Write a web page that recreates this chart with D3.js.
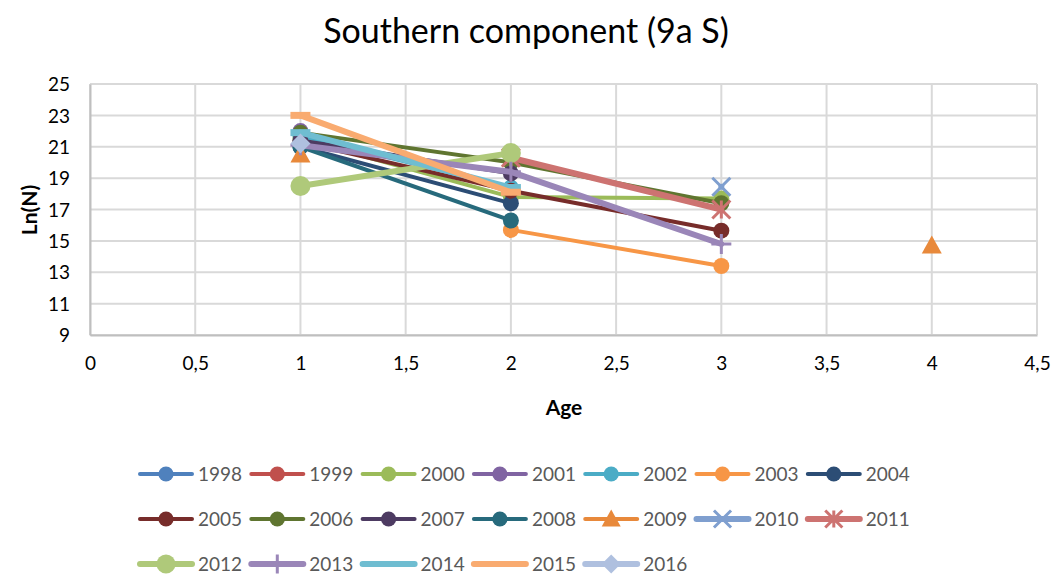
<!DOCTYPE html>
<html>
<head>
<meta charset="utf-8">
<script src="https://cdn.jsdelivr.net/npm/d3@7"></script>
<style>
  html, body { margin: 0; padding: 0; background: #fff; }
  svg { display: block; font-family: Lato, "Open Sans", sans-serif; }
</style>
</head>
<body>
<svg id="chart" width="1054" height="575"></svg>
<script>
// Ages on the x axis, one column per age class
const ages = [1, 2, 3, 4];

// Ln(N) per year class, indexed by age (null = no estimate)
const v1998 = [null, null, null, null];
const v1999 = [null, null, null, null];
const v2000 = [21.5, 17.8, 17.7, null];
const v2001 = [22.0, null, null, null];
const v2002 = [21.7, 18.4, null, null];
const v2003 = [null, 15.7, 13.4, null];
const v2004 = [21.0, 17.4, null, null];
const v2005 = [21.3, 18.2, 15.65, null];
const v2006 = [21.9, 20.0, 17.4, null];
const v2007 = [21.4, 19.3, null, null];
const v2008 = [21.0, 16.3, null, null];
const v2009 = [20.5, null, null, 14.7];
const v2010 = [null, null, 18.45, null];
const v2011 = [null, 20.3, 17.0, null];
const v2012 = [18.5, 20.6, null, null];
const v2013 = [21.1, 19.4, 14.8, null];
const v2014 = [21.9, 18.4, null, null];
const v2015 = [23.0, 18.1, null, null];
const v2016 = [21.2, null, null, null];

const years = ["1998","1999","2000","2001","2002","2003","2004","2005","2006","2007","2008","2009","2010","2011","2012","2013","2014","2015","2016"];
const values = [v1998,v1999,v2000,v2001,v2002,v2003,v2004,v2005,v2006,v2007,v2008,v2009,v2010,v2011,v2012,v2013,v2014,v2015,v2016];

const xTicks = [0, 0.5, 1, 1.5, 2, 2.5, 3, 3.5, 4, 4.5];
const yTicks = [9, 11, 13, 15, 17, 19, 21, 23, 25];

// Styling per series
const colors = ["#4F81BD","#C0504D","#9BBB59","#8064A2","#4BACC6","#F79646","#2C4D75","#772C2A","#5F7530","#4D3B62","#276A7C","#E8893B","#7F9FCF","#CD7371","#AFC97A","#9A86B8","#6FBDD1","#F9AB70","#AFC0DF"];
const markers = ["circle","circle","circle","circle","circle","circle","circle","circle","circle","circle","circle","triangle","x","star","bigcircle","plus","dash","dash","diamond"];
const widths = [4,4,4,4,4,4,4,4,4,4,4,4,6,6,6,6,6,6,6];

const series = years.map((y, i) => ({
  year: y, color: colors[i], marker: markers[i], width: widths[i],
  points: ages.map((a, k) => ({ age: a, v: values[i][k] }))
}));

const svg = d3.select("#chart");
const m = { left: 90, right: 1037, top: 84, bottom: 335 };

const x = d3.scaleLinear().domain([0, 4.5]).range([m.left, m.right]);
const y = d3.scaleLinear().domain([9, 25]).range([m.bottom, m.top]);

// Gridlines
const grid = svg.append("g");
grid.selectAll("line.h").data(yTicks).join("line")
  .attr("x1", m.left).attr("x2", m.right)
  .attr("y1", d => y(d)).attr("y2", d => y(d))
  .attr("stroke", "#D9D9D9").attr("stroke-width", 2);
grid.selectAll("line.v").data(xTicks).join("line")
  .attr("y1", m.top).attr("y2", m.bottom)
  .attr("x1", d => x(d)).attr("x2", d => x(d))
  .attr("stroke", "#D9D9D9").attr("stroke-width", 2);

// Axes
const xAxis = svg.append("g").attr("transform", `translate(0,${m.bottom})`)
  .call(d3.axisBottom(x).tickValues(xTicks).tickSize(0).tickPadding(22)
    .tickFormat(d => String(d).replace(".", ",")));
const yAxis = svg.append("g").attr("transform", `translate(${m.left},0)`)
  .call(d3.axisLeft(y).tickValues(yTicks).tickSize(0).tickPadding(20));
[xAxis, yAxis].forEach(a => {
  a.select(".domain").attr("stroke", "#BFBFBF").attr("stroke-width", 2);
  a.selectAll("text").attr("font-size", 19).attr("fill", "#000")
    .attr("font-family", "Lato, sans-serif");
});
yAxis.selectAll("text").attr("dy", "0.35em");

// Marker shapes
function drawMarker(g, type, color, cx, cy, scale) {
  const s = scale || 1;
  if (type === "circle" || type === "bigcircle") {
    g.append("circle").attr("cx", cx).attr("cy", cy)
      .attr("r", (type === "bigcircle" ? 10 : 8) * s).attr("fill", color);
  } else if (type === "triangle") {
    const h = 10 * s;
    g.append("path").attr("d", `M${cx},${cy - h}L${cx + h},${cy + h * 0.8}L${cx - h},${cy + h * 0.8}Z`)
      .attr("fill", color);
  } else if (type === "diamond") {
    const h = 10 * s;
    g.append("path").attr("d", `M${cx},${cy - h}L${cx + h},${cy}L${cx},${cy + h}L${cx - h},${cy}Z`)
      .attr("fill", color);
  } else if (type === "x") {
    const h = 9 * s;
    g.append("path").attr("d", `M${cx - h},${cy - h}L${cx + h},${cy + h}M${cx + h},${cy - h}L${cx - h},${cy + h}`)
      .attr("stroke", color).attr("stroke-width", 3).attr("fill", "none");
  } else if (type === "star") {
    const h = 9 * s;
    g.append("path").attr("d", `M${cx - h},${cy - h}L${cx + h},${cy + h}M${cx + h},${cy - h}L${cx - h},${cy + h}M${cx},${cy - h}L${cx},${cy + h}`)
      .attr("stroke", color).attr("stroke-width", 3).attr("fill", "none");
  } else if (type === "plus") {
    const h = 10 * s;
    g.append("path").attr("d", `M${cx - h},${cy}L${cx + h},${cy}M${cx},${cy - h}L${cx},${cy + h}`)
      .attr("stroke", color).attr("stroke-width", 3).attr("fill", "none");
  } else if (type === "dash") {
    g.append("rect").attr("x", cx - 10 * s).attr("y", cy - 3.5 * s)
      .attr("width", 20 * s).attr("height", 7 * s).attr("fill", color);
  }
}

// Lines and markers
const line = d3.line().defined(d => d.v !== null).x(d => x(d.age)).y(d => y(d.v));
const plot = svg.append("g");
series.forEach(s => {
  const g = plot.append("g");
  g.append("path").datum(s.points).attr("d", line)
    .attr("fill", "none").attr("stroke", s.color).attr("stroke-width", s.width)
    .attr("stroke-linejoin", "round").attr("stroke-linecap", "round");
  s.points.filter(p => p.v !== null).forEach(p => drawMarker(g, s.marker, s.color, x(p.age), y(p.v)));
});

// Title and axis titles
svg.append("text").attr("x", 526).attr("y", 43).attr("text-anchor", "middle")
  .attr("font-size", 34).attr("fill", "#000").text("Southern component (9a S)");
svg.append("text").attr("transform", "translate(37,210) rotate(-90)").attr("text-anchor", "middle")
  .attr("font-size", 21).attr("font-weight", "bold").attr("fill", "#000").text("Ln(N)");
svg.append("text").attr("x", 564).attr("y", 415).attr("text-anchor", "middle")
  .attr("font-size", 21).attr("font-weight", "bold").attr("fill", "#000").text("Age");

// Legend: 7 entries per row
const legend = svg.append("g");
series.forEach((s, i) => {
  const col = i % 7, row = Math.floor(i / 7);
  const lx = 140 + col * 111.3, ly = 474 + row * 45;
  const g = legend.append("g");
  g.append("line").attr("x1", lx).attr("x2", lx + 52).attr("y1", ly).attr("y2", ly)
    .attr("stroke", s.color).attr("stroke-width", s.width).attr("stroke-linecap", "round");
  if (s.marker !== "dash") drawMarker(g, s.marker, s.color, lx + 26, ly, 0.95);
  g.append("text").attr("x", lx + 58).attr("y", ly).attr("dy", "0.35em")
    .attr("font-size", 19).attr("fill", "#595959").text(s.year);
});
</script>
</body>
</html>
